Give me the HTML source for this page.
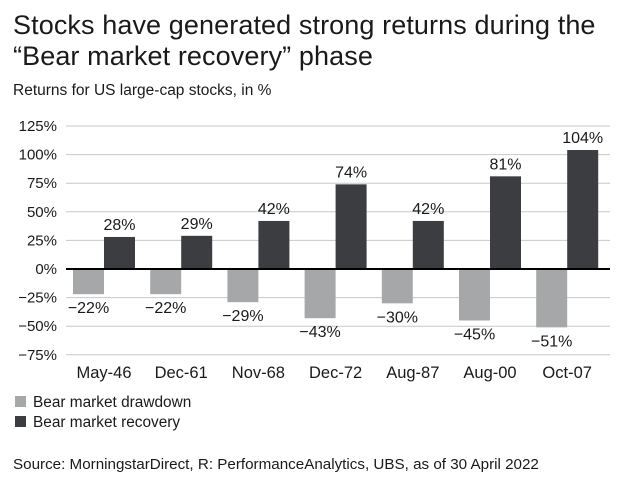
<!DOCTYPE html>
<html><head><meta charset="utf-8"><style>
body{margin:0;background:#fff;font-family:"Liberation Sans",sans-serif;color:#1a1a1a}
#wrap{position:relative;width:624px;height:489px;overflow:hidden}
.t{position:absolute;white-space:nowrap}
</style></head><body><div id="wrap">
<div class="t" style="left:13px;top:10px;font-size:27px;line-height:31px;letter-spacing:0.1px">Stocks have generated strong returns during the<br>“Bear market recovery” phase</div>
<div class="t" style="left:13px;top:82px;font-size:15.5px">Returns for US large-cap stocks, in %</div>
<svg id="chart" width="624" height="489" style="position:absolute;left:0;top:0"></svg>
<div class="t" style="left:15px;top:394px;font-size:15.4px"><span style="display:inline-block;width:11px;height:11px;background:#a6a7a8;margin-right:7px"></span>Bear market drawdown</div>
<div class="t" style="left:15px;top:414px;font-size:15.4px"><span style="display:inline-block;width:11px;height:11px;background:#3b3d40;margin-right:7px"></span>Bear market recovery</div>
<div class="t" style="left:13px;top:456px;font-size:15.2px">Source: MorningstarDirect, R: PerformanceAnalytics, UBS, as of 30 April 2022</div>
</div>
<script>
const categories=["May-46","Dec-61","Nov-68","Dec-72","Aug-87","Aug-00","Oct-07"];
const drawdown=[-22,-22,-29,-43,-30,-45,-51];
const recovery=[28,29,42,74,42,81,104];
const ticks=[125,100,75,50,25,0,-25,-50,-75];
const NS="http://www.w3.org/2000/svg";
const svg=document.getElementById('chart');
const y=v=>269-v*(143/125);
const x0=66,x1=610,step=77.2,bw=31;
const gx=i=>104+i*step;
function el(t,a){const e=document.createElementNS(NS,t);for(const k in a)e.setAttribute(k,a[k]);svg.appendChild(e);return e;}
ticks.forEach(t=>{
 const l=el('line',{x1:x0,x2:x1,y1:y(t),y2:y(t),stroke:'#c8c8c8','stroke-width':1});
 
 
 const tx=el('text',{x:57,y:y(t)+5,'text-anchor':'end','font-size':15,fill:'#1a1a1a'});
 tx.textContent=(t<0?'−'+(-t):t)+'%';
 
 
});
categories.forEach((c,i)=>{
 const cx=gx(i);
 const d=drawdown[i],r=recovery[i];
 const b1=el('rect',{x:cx-bw,y:y(0),width:bw,height:y(d)-y(0),fill:'#a6a7a8'});
 
 
 const b2=el('rect',{x:cx,y:y(r),width:bw,height:y(0)-y(r),fill:'#3b3d40'});
 
 
 const l1=el('text',{x:cx-bw/2,y:y(d)+19,'text-anchor':'middle','font-size':16,fill:'#1a1a1a'});
 l1.textContent='−'+(-d)+'%';
 
 
 const l2=el('text',{x:cx+bw/2,y:y(r)-7,'text-anchor':'middle','font-size':16,fill:'#1a1a1a'});
 l2.textContent=r+'%';
 
 
 const cl=el('text',{x:cx,y:378,'text-anchor':'middle','font-size':16.5,fill:'#1a1a1a'});
 cl.textContent=c;
 
 
});
const z=el('line',{x1:x0,x2:x1,y1:y(0),y2:y(0),stroke:'#000','stroke-width':2});


</script></body></html>
